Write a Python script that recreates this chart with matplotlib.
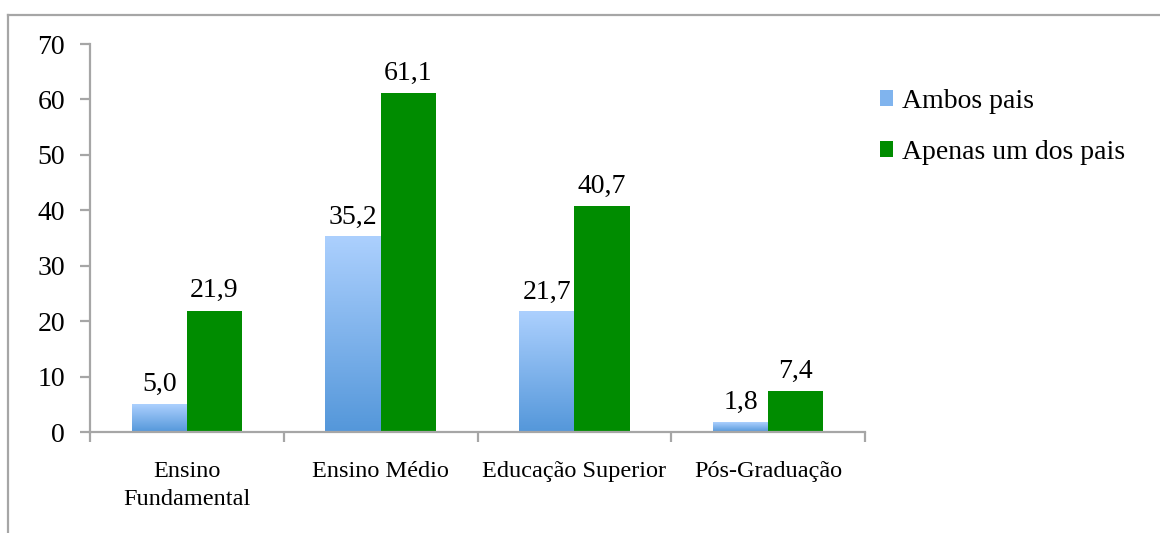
import numpy as np
import matplotlib.pyplot as plt
from matplotlib.colors import LinearSegmentedColormap
from matplotlib.patches import Patch
from matplotlib.lines import Line2D

categories = ['Ensino\nFundamental', 'Ensino Médio', 'Educação Superior', 'Pós-Graduação']
ambos = [5.0, 35.2, 21.7, 1.8]
apenas_um = [21.9, 61.1, 40.7, 7.4]
series_names = ['Ambos pais', 'Apenas um dos pais']

plt.rcParams['font.family'] = ['Liberation Serif', 'DejaVu Serif']

grey = '#a6a6a6'
green = '#008c00'
blue_cmap = LinearSegmentedColormap.from_list('blue', ['#5497da', '#acd0fe'])

fig = plt.figure(figsize=(11.6, 5.33), dpi=100)
ax = fig.add_axes([90 / 1160, 1 - 432 / 533, 775 / 1160, 388 / 533])

# outer frame (left and top edges only visible)
fig.add_artist(Line2D([8 / 1160, 8 / 1160], [0, 1 - 15 / 533], transform=fig.transFigure,
                      color=grey, lw=1.6))
fig.add_artist(Line2D([8 / 1160, 1], [1 - 15 / 533, 1 - 15 / 533], transform=fig.transFigure,
                      color=grey, lw=1.6))

x = np.arange(len(categories))
w = 0.285
grad = np.linspace(0, 1, 256).reshape(-1, 1)

for i in range(len(categories)):
    # gradient bar for "Ambos pais"
    ax.imshow(grad, extent=[x[i] - w, x[i], 0, ambos[i]], origin='lower',
              aspect='auto', cmap=blue_cmap, zorder=2)
    ax.text(x[i] - w / 2, ambos[i] + 1.3, f'{ambos[i]:.1f}'.replace('.', ','),
            ha='center', va='bottom', fontsize=20)
    ax.text(x[i] + w / 2, apenas_um[i] + 1.3, f'{apenas_um[i]:.1f}'.replace('.', ','),
            ha='center', va='bottom', fontsize=20)

ax.bar(x + w / 2, apenas_um, width=w, color=green, zorder=2)

ax.set_xlim(-0.5, len(categories) - 0.5)
ax.set_ylim(0, 70)
ax.set_yticks(range(0, 71, 10))
ax.set_xticks(np.arange(-0.5, len(categories), 1))
ax.set_xticklabels([])
ax.set_xticks(x, minor=True)
ax.set_xticklabels(categories, minor=True, fontsize=17.5, linespacing=1.45)
ax.tick_params(axis='x', which='minor', length=0, pad=21)
ax.tick_params(axis='x', which='major', length=7, width=1.6, color=grey)
ax.tick_params(axis='y', length=7, width=1.6, color=grey, labelsize=20, pad=11)
for s in ['top', 'right']:
    ax.spines[s].set_visible(False)
for s in ['left', 'bottom']:
    ax.spines[s].set_color(grey)
    ax.spines[s].set_linewidth(1.6)

handles = [Patch(facecolor='#80b4ee'), Patch(facecolor=green)]
fig.legend(handles, series_names, loc='upper left', bbox_to_anchor=(874 / 1160, 1 - 83 / 533),
           frameon=False, fontsize=20, handlelength=0.5, handleheight=0.5,
           handletextpad=0.3, labelspacing=0.95, borderaxespad=0, borderpad=0.2)

plt.savefig('out.png', dpi=100)
